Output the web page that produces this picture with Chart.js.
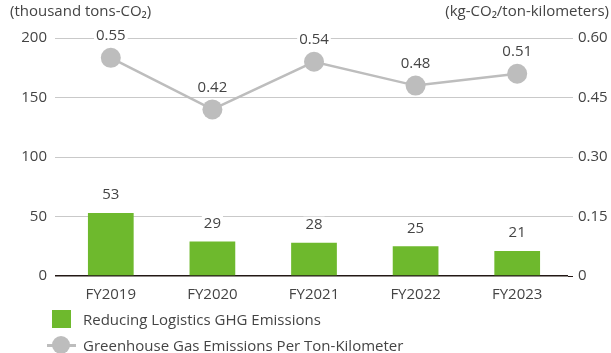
<!DOCTYPE html>
<html>
<head>
<meta charset="utf-8">
<script src="https://cdn.jsdelivr.net/npm/chart.js@4.4.1/dist/chart.umd.min.js"></script>
<style>
  html, body { margin: 0; padding: 0; background: #fff; }
  #wrap { position: relative; width: 611px; height: 353px; }
  #chart { position: absolute; left: 0; top: 0; }
  .legend { position: absolute; left: 0; top: 0; font-family: "Open Sans", sans-serif; font-size: 15px; color: #444; }
  .item { position: absolute; left: 0; height: 20px; white-space: nowrap; }
  .item span.txt { position: absolute; left: 83px; top: 0; line-height: 20px; }
</style>
</head>
<body>
<div id="wrap">
  <canvas id="chart" width="611" height="353"></canvas>
  <div class="legend" id="legend"></div>
</div>
<script>
// Fiscal years on the category axis
const categories = ['FY2019', 'FY2020', 'FY2021', 'FY2022', 'FY2023'];
// Reduction of logistics GHG emissions (thousand tons-CO2), left axis
const reductionValues = [53, 29, 28, 25, 21];
// GHG emissions per ton-kilometer (kg-CO2/ton-kilometers), right axis
const intensityValues = [0.55, 0.42, 0.54, 0.48, 0.51];
// Axis ticks
const leftTicks = [0, 50, 100, 150, 200];
const rightTicks = [0, 0.15, 0.30, 0.45, 0.60];
const leftTitle = '(thousand tons-CO\u2082)';
const rightTitle = '(kg-CO\u2082/ton-kilometers)';
const seriesNames = ['Reducing Logistics GHG Emissions', 'Greenhouse Gas Emissions Per Ton-Kilometer'];

const FONT = '"Open Sans", sans-serif';
const TEXT = '#444444';
const GREEN = '#6EB92D';
const GREY = '#BDBDBD';

// Value labels above bars and points, on a white patch that breaks the grid lines
const valueLabels = {
  id: 'valueLabels',
  afterDatasetsDraw(chart) {
    const ctx = chart.ctx;
    ctx.save();
    ctx.font = '15px ' + FONT;
    ctx.textAlign = 'center';
    ctx.textBaseline = 'middle';
    chart.data.datasets.forEach((ds, di) => {
      const meta = chart.getDatasetMeta(di);
      meta.data.forEach((el, i) => {
        const v = ds.data[i];
        const txt = ds.type === 'line' ? v.toFixed(2) : String(v);
        const x = el.x;
        const y = ds.type === 'line' ? el.y - 22 : el.y - 18;
        const w = ctx.measureText(txt).width;
        ctx.fillStyle = '#ffffff';
        ctx.fillRect(x - w / 2 - 2, y - 8, w + 4, 16);
        ctx.fillStyle = TEXT;
        ctx.fillText(txt, x, y);
      });
    });
    ctx.restore();
  }
};

// Unit captions over each value axis
const unitTitles = {
  id: 'unitTitles',
  afterDraw(chart) {
    const ctx = chart.ctx;
    ctx.save();
    ctx.font = '15px ' + FONT;
    ctx.fillStyle = TEXT;
    ctx.textBaseline = 'middle';
    ctx.textAlign = 'left';
    ctx.fillText(leftTitle, 10, 12);
    ctx.textAlign = 'right';
    ctx.fillText(rightTitle, 609, 12);
    ctx.restore();
  }
};

const chart = new Chart(document.getElementById('chart'), {
  data: {
    labels: categories,
    datasets: [
      {
        type: 'bar',
        label: seriesNames[0],
        data: reductionValues,
        backgroundColor: GREEN,
        yAxisID: 'y',
        barPercentage: 0.9,
        categoryPercentage: 0.5,
        order: 2
      },
      {
        type: 'line',
        label: seriesNames[1],
        data: intensityValues,
        borderColor: GREY,
        backgroundColor: GREY,
        borderWidth: 2.5,
        pointRadius: 10,
        pointHoverRadius: 10,
        pointBackgroundColor: GREY,
        pointBorderWidth: 0,
        yAxisID: 'y1',
        tension: 0,
        order: 1
      }
    ]
  },
  options: {
    responsive: false,
    animation: false,
    events: [],
    layout: { padding: { top: 38, bottom: 0, left: 0, right: 0 } },
    plugins: {
      legend: { display: false },
      tooltip: { enabled: false }
    },
    scales: {
      x: {
        grid: { display: false },
        border: { display: false },
        ticks: { color: TEXT, font: { family: FONT, size: 15 }, padding: 2 },
        afterFit(s) { s.height = 77; }
      },
      y: {
        position: 'left',
        min: 0, max: 200,
        afterBuildTicks(s) { s.ticks = leftTicks.map(v => ({ value: v })); },
        grid: {
          color: c => c.tick && c.tick.value === 0 ? '#231815' : '#C9C9C9',
          lineWidth: c => c.tick && c.tick.value === 0 ? 1.5 : 1,
          drawTicks: true,
          tickLength: 5
        },
        border: { display: false },
        ticks: { color: TEXT, font: { family: FONT, size: 15 }, padding: 8 },
        afterFit(s) { s.width = 60; }
      },
      y1: {
        position: 'right',
        min: 0, max: 0.6,
        afterBuildTicks(s) { s.ticks = rightTicks.map(v => ({ value: v })); },
        grid: { drawOnChartArea: false, drawTicks: true, tickLength: 5, color: c => c.tick && c.tick.value === 0 ? '#231815' : '#C9C9C9' },
        border: { display: false },
        ticks: {
          color: TEXT, font: { family: FONT, size: 15 }, padding: 5,
          callback: v => v === 0 ? '0' : v.toFixed(2)
        },
        afterFit(s) { s.width = 43; }
      }
    }
  },
  plugins: [valueLabels, unitTitles]
});

// Legend below the chart, built from the chart's datasets
const legend = document.getElementById('legend');
chart.data.datasets.forEach((ds, i) => {
  const item = document.createElement('div');
  item.className = 'item';
  item.style.top = (i === 0 ? 309 : 335) + 'px';
  const mark = document.createElement('div');
  if (ds.type === 'bar') {
    mark.style.cssText = 'position:absolute;left:52px;top:1px;width:19px;height:18px;background:' + ds.backgroundColor;
    item.appendChild(mark);
  } else {
    mark.style.cssText = 'position:absolute;left:47px;top:9px;width:29px;height:2.5px;background:' + ds.borderColor;
    const dot = document.createElement('div');
    dot.style.cssText = 'position:absolute;left:52px;top:1px;width:18px;height:18px;border-radius:50%;background:' + ds.pointBackgroundColor;
    item.appendChild(mark);
    item.appendChild(dot);
  }
  const txt = document.createElement('span');
  txt.className = 'txt';
  txt.textContent = ds.label;
  item.appendChild(txt);
  legend.appendChild(item);
});
</script>
</body>
</html>
